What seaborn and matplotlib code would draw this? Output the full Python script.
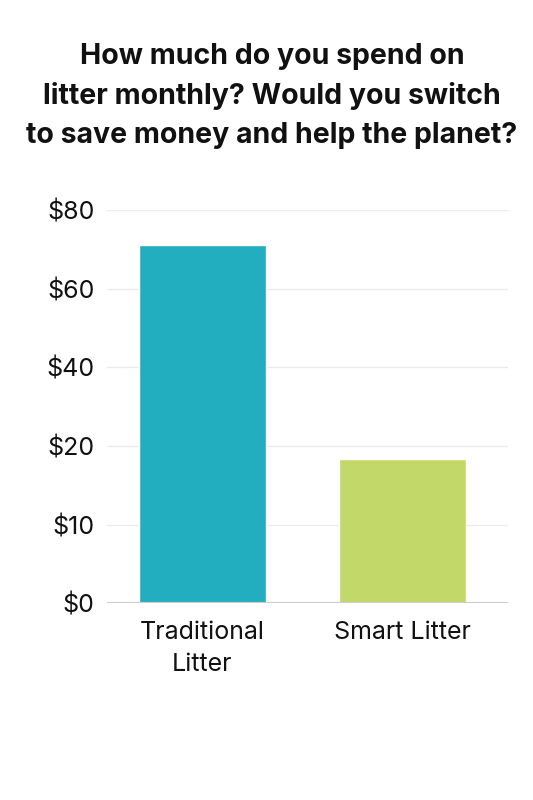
import numpy as np
import pandas as pd
import seaborn as sns
from matplotlib import pyplot as plt

categories = ["Traditional\nLitter", "Smart Litter"]
spend = [71, 18.3]
tick_values = [0, 10, 20, 40, 60, 80]
tick_labels = ["$0", "$10", "$20", "$40", "$60", "$80"]
colors = ["#22aebf", "#c2d869"]

# the y axis is spaced evenly per tick, not linearly in dollars
tick_pos = np.arange(len(tick_values))
df = pd.DataFrame({"cat": categories, "spend": spend})
df["pos"] = np.interp(df["spend"], tick_values, tick_pos)

sns.set_theme(style="white")
plt.rcParams["font.family"] = ["Inter", "DejaVu Sans"]

fig = plt.figure(figsize=(5.33, 8), dpi=100)
ax = fig.add_axes([0.2008, 0.246, 0.752, 0.4915])

sns.barplot(data=df, x="cat", y="pos", hue="cat", palette=colors,
            width=0.635, saturation=1, legend=False, ax=ax, zorder=3)

ax.set_ylim(0, 5)
ax.set_xlim(-0.475, 1.525)
ax.set_yticks(tick_pos)
ax.set_yticklabels(tick_labels)
ax.tick_params(axis="y", length=0, pad=9, labelsize=18, colors="#111111")
ax.tick_params(axis="x", length=0, pad=13, labelsize=18, colors="#111111")
for t in ax.get_xticklabels():
    t.set_linespacing(1.5)
ax.set_xlabel("")
ax.set_ylabel("")
for y in tick_pos[1:]:
    ax.axhline(y, color="#ebebeb", lw=1, zorder=1)
ax.axhline(0, color="#cccccc", lw=1.5, zorder=4)
for s in ax.spines.values():
    s.set_visible(False)

fig.text(0.51, 0.88,
         "How much do you spend on\nlitter monthly? Would you switch\nto save money and help the planet?",
         ha="center", va="center", fontsize=20.5, fontweight="bold",
         linespacing=1.58, color="#111111")

fig.savefig("out.png", dpi=100, facecolor="white")
